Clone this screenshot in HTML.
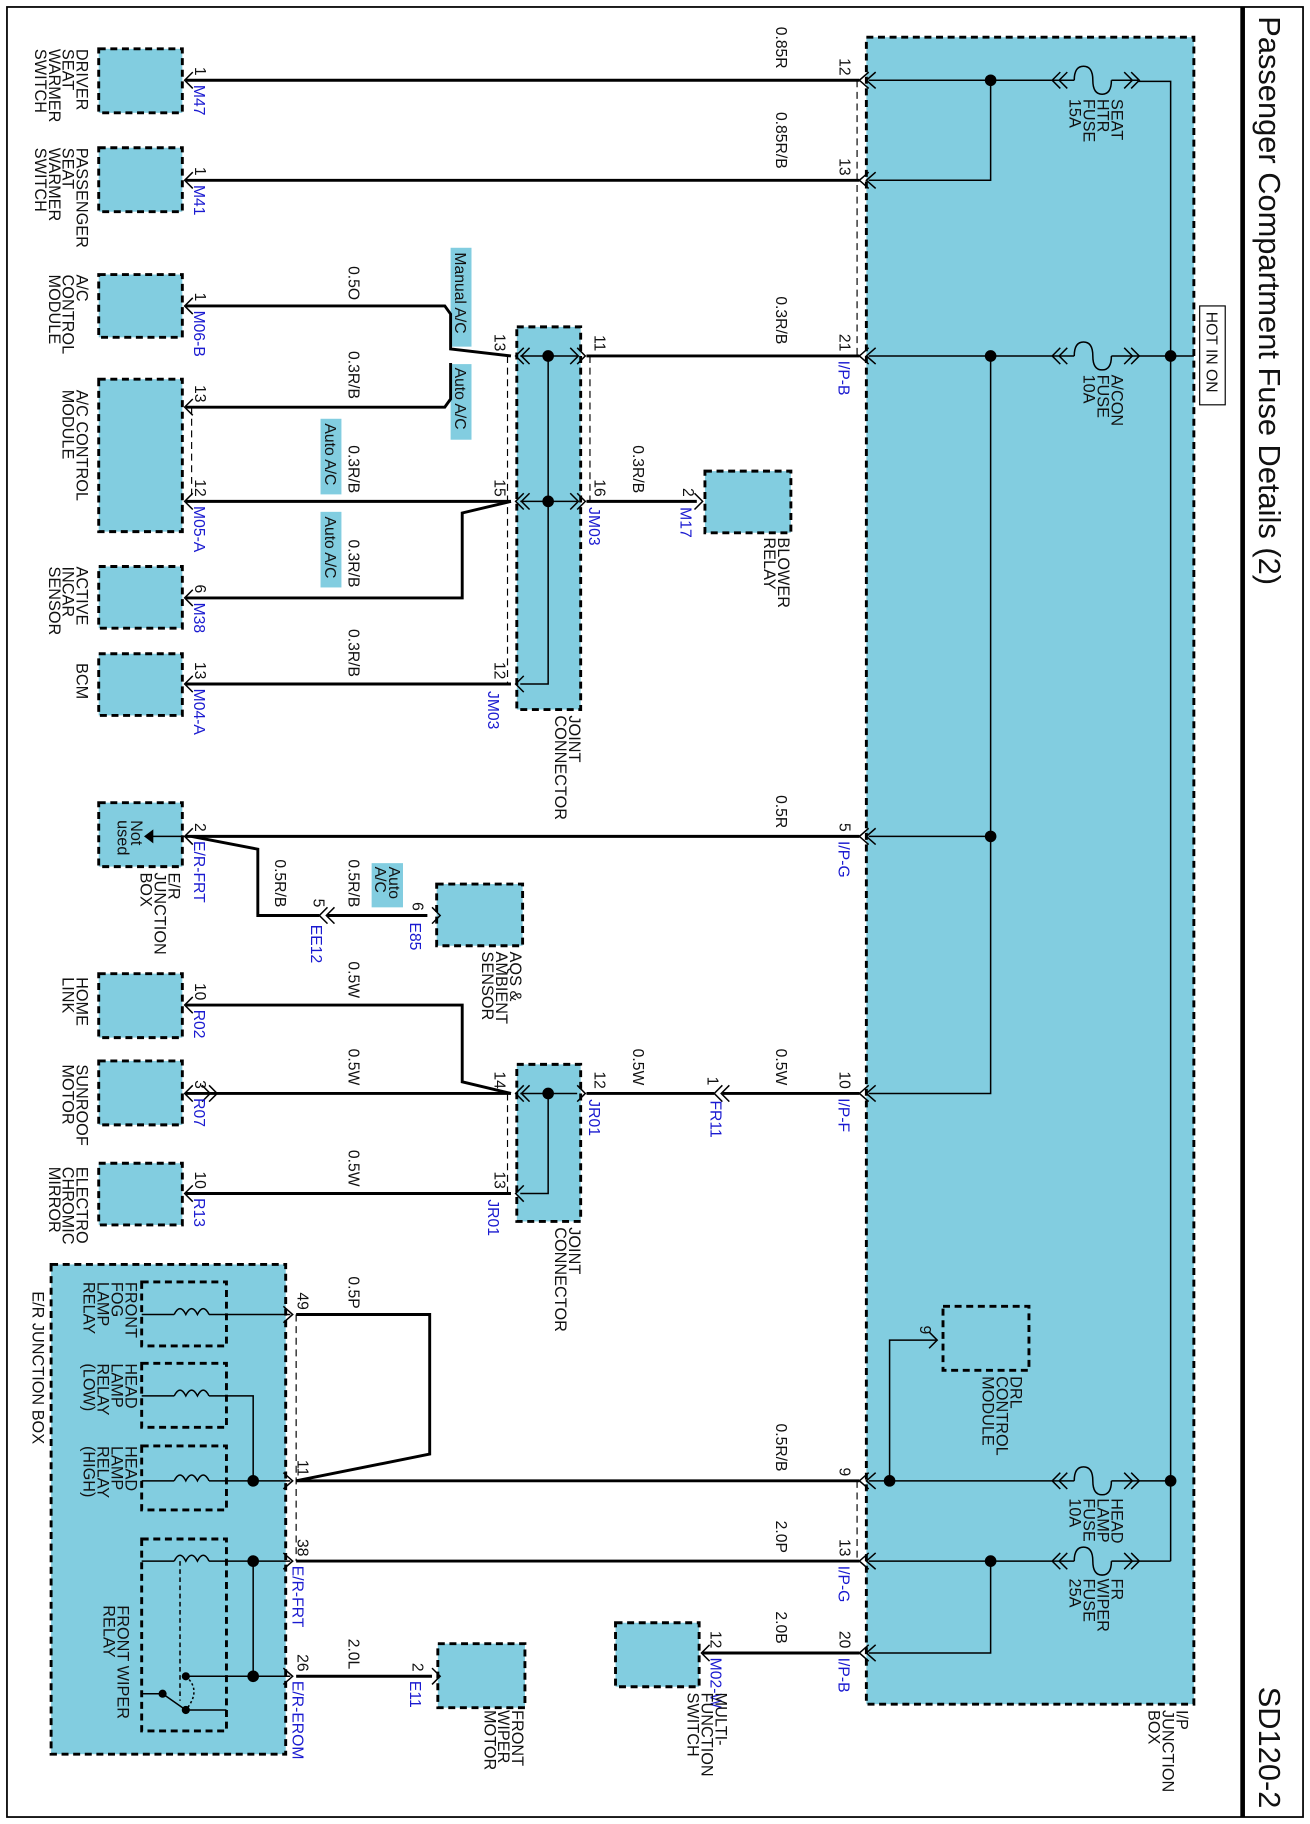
<!DOCTYPE html>
<html><head><meta charset="utf-8"><style>
html,body{margin:0;padding:0;background:#fff}
svg{display:block}
text{font-family:"Liberation Sans",sans-serif;font-size:13.5px;fill:#111}
.b{fill:#1a1ad0}
.t{font-size:26.5px}
.L text{font-size:14px}
</style></head><body>
<svg width="1310" height="1824" viewBox="0 0 1128 1568" preserveAspectRatio="none" xmlns="http://www.w3.org/2000/svg">
<rect x="6" y="6" width="1116" height="1556" fill="none" stroke="#000" stroke-width="1.5"/>
<line x1="1070" y1="6" x2="1070" y2="1562" stroke="#000" stroke-width="4"/>
<text class="t" transform="translate(1084,14) rotate(90)">Passenger Compartment Fuse Details (2)</text>
<text class="t" transform="translate(1084,1450) rotate(90)">SD120-2</text>

<g fill="#82cde0" stroke="#000" stroke-width="2.5" stroke-dasharray="6,4">
<rect x="746" y="32" width="282" height="1433"/>
<rect x="85" y="42" width="72" height="55"/>
<rect x="85" y="127" width="72" height="55"/>
<rect x="85" y="236" width="72" height="54"/>
<rect x="85" y="326" width="72" height="131"/>
<rect x="85" y="487" width="72" height="53"/>
<rect x="85" y="562" width="72" height="53"/>
<rect x="607" y="405" width="74" height="53"/>
<rect x="445" y="281" width="55" height="329"/>
<rect x="85" y="690" width="72" height="55"/>
<rect x="376" y="760" width="74" height="53"/>
<rect x="85" y="837" width="72" height="55"/>
<rect x="85" y="912" width="72" height="55"/>
<rect x="445" y="915" width="55" height="135"/>
<rect x="85" y="1000" width="72" height="53"/>
<rect x="44" y="1087" width="202" height="421"/>
<rect x="377" y="1413" width="75" height="55"/>
<rect x="530" y="1395" width="72" height="55"/>
</g>
<g fill="none" stroke="#000" stroke-width="2.5" stroke-dasharray="6,4">
<rect x="812" y="1123" width="74" height="55"/>
<rect x="122" y="1102" width="73" height="55"/>
<rect x="122" y="1172" width="73" height="55"/>
<rect x="122" y="1243" width="73" height="55"/>
<rect x="122" y="1323" width="73" height="165"/>
</g>
<rect x="1033" y="263" width="22" height="85" fill="#fff" stroke="#000" stroke-width="1"/>
<text transform="translate(1039,268) rotate(90)">HOT IN ON</text>
<rect x="388" y="213" width="18" height="85" fill="#82cde0"/>
<rect x="388" y="313" width="18" height="65" fill="#82cde0"/>
<rect x="276" y="360" width="18" height="65" fill="#82cde0"/>
<rect x="276" y="440" width="18" height="65" fill="#82cde0"/>
<rect x="320" y="742" width="27" height="38" fill="#82cde0"/>

<g stroke="#000" stroke-width="1" stroke-dasharray="6,4" fill="none">
<line x1="738" y1="69" x2="738" y2="306"/>
<line x1="738" y1="1273" x2="738" y2="1342"/>
<line x1="437" y1="306" x2="437" y2="588"/>
<line x1="508" y1="306" x2="508" y2="431"/>
<line x1="437" y1="940" x2="437" y2="1026"/>
<line x1="165" y1="350" x2="165" y2="431"/>
<line x1="255" y1="1130" x2="255" y2="1342"/>
</g>

<g stroke="#000" stroke-width="1.3" fill="none">
<polyline points="1008,1342 1008,70 980,70"/>
<line x1="1008" y1="306" x2="1028" y2="306"/>
<line x1="980" y1="306" x2="1008" y2="306"/>
<line x1="980" y1="1273" x2="1008" y2="1273"/>
<line x1="980" y1="1342" x2="1008" y2="1342"/>
<polyline points="905,69 748,69"/><polyline points="853,69 853,155 748,155"/>
<polyline points="905,306 748,306"/><polyline points="853,306 853,940 748,940"/>
<line x1="853" y1="719" x2="748" y2="719"/>
<line x1="905" y1="1273" x2="748" y2="1273"/>
<polyline points="766,1273 766,1152 806,1152"/>
<line x1="905" y1="1342" x2="748" y2="1342"/>
<polyline points="853,1342 853,1421 748,1421"/>
<polyline points="472,306 472,588 448,588"/>
<line x1="448" y1="306" x2="497" y2="306"/><line x1="448" y1="431" x2="497" y2="431"/>
<polyline points="448,940 497,940"/><polyline points="472,940 472,1026 448,1026"/>
<line x1="160" y1="719" x2="130" y2="719"/>
<line x1="122" y1="1130" x2="150" y2="1130"/><line x1="180" y1="1130" x2="250" y2="1130"/>
<polyline points="122,1200 150,1200"/><polyline points="180,1200 218,1200 218,1273"/>
<polyline points="122,1273 150,1273"/><polyline points="180,1273 250,1273"/>
<polyline points="122,1342 150,1342"/><polyline points="180,1342 250,1342"/>
<line x1="218" y1="1342" x2="218" y2="1441"/>
<line x1="160" y1="1441" x2="250" y2="1441"/>
<polyline points="122,1456 140,1456 160,1470 195,1470"/>
<path d="M150,1130 q5,-10 10,0 q5,-10 10,0 q5,-10 10,0 M150,1200 q5,-10 10,0 q5,-10 10,0 q5,-10 10,0 M150,1273 q5,-10 10,0 q5,-10 10,0 q5,-10 10,0 M150,1342 q5,-10 10,0 q5,-10 10,0 q5,-10 10,0"/>
<line x1="155" y1="1342" x2="155" y2="1462" stroke-dasharray="4,3"/>
<path d="M160,1441 q14,12 0,29" stroke-dasharray="2,2"/>
<path d="M925,69 q0,-12 8,-12 q8,0 8,12 q0,12 8,12 q8,0 8,-12 M925,306 q0,-12 8,-12 q8,0 8,12 q0,12 8,12 q8,0 8,-12 M925,1273 q0,-12 8,-12 q8,0 8,12 q0,12 8,12 q8,0 8,-12 M925,1342 q0,-12 8,-12 q8,0 8,12 q0,12 8,12 q8,0 8,-12"/>
<path d="M913,62 l-7,7 l7,7 M919,62 l-7,7 l7,7 M913,299 l-7,7 l7,7 M919,299 l-7,7 l7,7 M913,1266 l-7,7 l7,7 M919,1266 l-7,7 l7,7 M913,1335 l-7,7 l7,7 M919,1335 l-7,7 l7,7"/>
<path d="M968,62 l7,7 l-7,7 M974,62 l7,7 l-7,7 M968,299 l7,7 l-7,7 M974,299 l7,7 l-7,7 M968,1266 l7,7 l-7,7 M974,1266 l7,7 l-7,7 M968,1335 l7,7 l-7,7 M974,1335 l7,7 l-7,7"/>
<line x1="905" y1="69" x2="925" y2="69"/><line x1="957" y1="69" x2="980" y2="69"/>
<line x1="905" y1="306" x2="925" y2="306"/><line x1="957" y1="306" x2="980" y2="306"/>
<line x1="905" y1="1273" x2="925" y2="1273"/><line x1="957" y1="1273" x2="980" y2="1273"/>
<line x1="905" y1="1342" x2="925" y2="1342"/><line x1="957" y1="1342" x2="980" y2="1342"/>
</g>
<polygon points="132,713 132,725 124,719" fill="#000"/>

<g stroke="#000" stroke-width="2.5" fill="none">
<line x1="160" y1="69" x2="740" y2="69"/>
<line x1="160" y1="155" x2="740" y2="155"/>
<polyline points="160,263 383,263 388,270 388,300 440,306"/>
<polyline points="160,350 383,350 388,343 388,312"/>
<line x1="505" y1="306" x2="740" y2="306"/>
<line x1="160" y1="431" x2="440" y2="431"/>
<line x1="505" y1="431" x2="600" y2="431"/>
<polyline points="160,514 398,514 398,441 440,431"/>
<line x1="160" y1="588" x2="440" y2="588"/>
<line x1="160" y1="719" x2="740" y2="719"/>
<polyline points="165,719 222,730 222,787 275,787"/>
<line x1="282" y1="787" x2="368" y2="787"/>
<polyline points="160,864 398,864 398,930 440,940"/>
<line x1="160" y1="940" x2="440" y2="940"/>
<line x1="505" y1="940" x2="615" y2="940"/>
<line x1="622" y1="940" x2="740" y2="940"/>
<line x1="160" y1="1026" x2="440" y2="1026"/>
<polyline points="255,1130 370,1130 370,1250 255,1273"/>
<line x1="255" y1="1273" x2="740" y2="1273"/>
<line x1="255" y1="1342" x2="740" y2="1342"/>
<line x1="255" y1="1441" x2="372" y2="1441"/>
<line x1="605" y1="1421" x2="740" y2="1421"/>
</g>
<g stroke="#000" stroke-width="1.3" fill="none">
<path d="M748,62l-8,7l8,7M754,62l-8,7l8,7 M748,148l-8,7l8,7M754,148l-8,7l8,7 M748,299l-8,7l8,7M754,299l-8,7l8,7 M748,712l-8,7l8,7M754,712l-8,7l8,7 M748,933l-8,7l8,7M754,933l-8,7l8,7 M748,1266l-8,7l8,7M754,1266l-8,7l8,7 M748,1335l-8,7l8,7M754,1335l-8,7l8,7 M748,1414l-8,7l8,7M754,1414l-8,7l8,7"/>
<path d="M166,62l-7,7l7,7 M166,148l-7,7l7,7 M166,256l-7,7l7,7 M166,343l-7,7l7,7 M166,424l-7,7l7,7 M166,507l-7,7l7,7 M166,581l-7,7l7,7 M166,712l-7,7l7,7 M166,857l-7,7l7,7 M166,1019l-7,7l7,7 M166,933l-7,7l7,7 M174,933l7,7l-7,7 M180,933l7,7l-7,7"/>
<path d="M451,299l-7,7l7,7 M456,299l-7,7l7,7 M451,424l-7,7l7,7 M456,424l-7,7l7,7 M451,581l-7,7l7,7 M451,933l-7,7l7,7 M456,933l-7,7l7,7 M451,1019l-7,7l7,7"/>
<path d="M497,299l7,7l-7,7 M491,299l7,7l-7,7 M497,424l7,7l-7,7 M491,424l7,7l-7,7 M497,933l7,7l-7,7"/>
<path d="M598,424l7,7l-7,7 M372,780l7,7l-7,7 M372,1434l7,7l-7,7 M611,1414l-7,7l7,7 M800,1145l7,7l-7,7"/>
<path d="M282,780l-7,7l7,7 M288,780l-7,7l7,7 M622,933l-7,7l7,7 M628,933l-7,7l7,7"/>
<path d="M244,1123l8,7l-8,7 M244,1266l8,7l-8,7 M244,1335l8,7l-8,7 M244,1434l8,7l-8,7"/>
</g>
<g fill="#000">
<circle cx="853" cy="69" r="5"/><circle cx="853" cy="306" r="5"/><circle cx="853" cy="719" r="5"/>
<circle cx="1008" cy="306" r="5"/><circle cx="1008" cy="1273" r="5"/>
<circle cx="766" cy="1273" r="5"/><circle cx="853" cy="1342" r="5"/>
<circle cx="472" cy="306" r="5"/><circle cx="472" cy="431" r="5"/><circle cx="472" cy="940" r="5"/>
<circle cx="218" cy="1273" r="5"/><circle cx="218" cy="1342" r="5"/><circle cx="218" cy="1441" r="5"/>
<circle cx="160" cy="1441" r="3.5"/><circle cx="160" cy="1470" r="3.5"/><circle cx="140" cy="1456" r="3.5"/>
</g>

<g text-anchor="end">
<text transform="translate(668,59) rotate(90)">0.85R</text>
<text transform="translate(668,145) rotate(90)">0.85R/B</text>
<text transform="translate(300,258) rotate(90)">0.5O</text>
<text transform="translate(668,296) rotate(90)">0.3R/B</text>
<text transform="translate(300,343) rotate(90)">0.3R/B</text>
<text transform="translate(300,424) rotate(90)">0.3R/B</text>
<text transform="translate(545,424) rotate(90)">0.3R/B</text>
<text transform="translate(300,505) rotate(90)">0.3R/B</text>
<text transform="translate(300,582) rotate(90)">0.3R/B</text>
<text transform="translate(668,712) rotate(90)">0.5R</text>
<text transform="translate(237,780) rotate(90)">0.5R/B</text>
<text transform="translate(300,780) rotate(90)">0.5R/B</text>
<text transform="translate(300,858) rotate(90)">0.5W</text>
<text transform="translate(300,933) rotate(90)">0.5W</text>
<text transform="translate(545,933) rotate(90)">0.5W</text>
<text transform="translate(668,933) rotate(90)">0.5W</text>
<text transform="translate(300,1020) rotate(90)">0.5W</text>
<text transform="translate(300,1125) rotate(90)">0.5P</text>
<text transform="translate(668,1265) rotate(90)">0.5R/B</text>
<text transform="translate(668,1335) rotate(90)">2.0P</text>
<text transform="translate(300,1435) rotate(90)">2.0L</text>
<text transform="translate(668,1413) rotate(90)">2.0B</text>
<text transform="translate(723,65) rotate(90)">12</text>
<text transform="translate(723,151) rotate(90)">13</text>
<text transform="translate(723,302) rotate(90)">21</text>
<text transform="translate(723,715) rotate(90)">5</text>
<text transform="translate(723,936) rotate(90)">10</text>
<text transform="translate(723,1269) rotate(90)">9</text>
<text transform="translate(723,1338) rotate(90)">13</text>
<text transform="translate(723,1417) rotate(90)">20</text>
<text transform="translate(168,65) rotate(90)">1</text>
<text transform="translate(168,151) rotate(90)">1</text>
<text transform="translate(168,259) rotate(90)">1</text>
<text transform="translate(168,346) rotate(90)">13</text>
<text transform="translate(168,427) rotate(90)">12</text>
<text transform="translate(168,510) rotate(90)">6</text>
<text transform="translate(168,584) rotate(90)">13</text>
<text transform="translate(168,715) rotate(90)">2</text>
<text transform="translate(168,860) rotate(90)">10</text>
<text transform="translate(168,936) rotate(90)">3</text>
<text transform="translate(168,1022) rotate(90)">10</text>
<text transform="translate(426,302) rotate(90)">13</text>
<text transform="translate(426,427) rotate(90)">15</text>
<text transform="translate(426,584) rotate(90)">12</text>
<text transform="translate(426,936) rotate(90)">14</text>
<text transform="translate(426,1022) rotate(90)">13</text>
<text transform="translate(512,302) rotate(90)">11</text>
<text transform="translate(512,427) rotate(90)">16</text>
<text transform="translate(512,936) rotate(90)">12</text>
<text transform="translate(588,427) rotate(90)">2</text>
<text transform="translate(609,933) rotate(90)">1</text>
<text transform="translate(270,780) rotate(90)">5</text>
<text transform="translate(355,783) rotate(90)">6</text>
<text transform="translate(355,1437) rotate(90)">2</text>
<text transform="translate(612,1417) rotate(90)">12</text>
<text transform="translate(792,1147) rotate(90)">9</text>
<text transform="translate(256,1126) rotate(90)">49</text>
<text transform="translate(256,1269) rotate(90)">11</text>
<text transform="translate(256,1338) rotate(90)">38</text>
<text transform="translate(256,1437) rotate(90)">26</text>
</g>
<g>
<text class="b" transform="translate(167,73) rotate(90)">M47</text>
<text class="b" transform="translate(167,159) rotate(90)">M41</text>
<text class="b" transform="translate(167,267) rotate(90)">M06-B</text>
<text class="b" transform="translate(167,435) rotate(90)">M05-A</text>
<text class="b" transform="translate(167,518) rotate(90)">M38</text>
<text class="b" transform="translate(167,592) rotate(90)">M04-A</text>
<text class="b" transform="translate(167,723) rotate(90)">E/R-FRT</text>
<text class="b" transform="translate(167,868) rotate(90)">R02</text>
<text class="b" transform="translate(167,944) rotate(90)">R07</text>
<text class="b" transform="translate(167,1030) rotate(90)">R13</text>
<text class="b" transform="translate(722,310) rotate(90)">I/P-B</text>
<text class="b" transform="translate(722,723) rotate(90)">I/P-G</text>
<text class="b" transform="translate(722,944) rotate(90)">I/P-F</text>
<text class="b" transform="translate(722,1346) rotate(90)">I/P-G</text>
<text class="b" transform="translate(722,1425) rotate(90)">I/P-B</text>
<text class="b" transform="translate(420,594) rotate(90)">JM03</text>
<text class="b" transform="translate(507,436) rotate(90)">JM03</text>
<text class="b" transform="translate(507,945) rotate(90)">JR01</text>
<text class="b" transform="translate(420,1031) rotate(90)">JR01</text>
<text class="b" transform="translate(612,946) rotate(90)">FR11</text>
<text class="b" transform="translate(268,795) rotate(90)">EE12</text>
<text class="b" transform="translate(353,793) rotate(90)">E85</text>
<text class="b" transform="translate(586,436) rotate(90)">M17</text>
<text class="b" transform="translate(252,1346) rotate(90)">E/R-FRT</text>
<text class="b" transform="translate(252,1445) rotate(90)">E/R-EROM</text>
<text class="b" transform="translate(353,1445) rotate(90)">E11</text>
<text class="b" transform="translate(612,1425) rotate(90)">M02-W</text>
</g>
<text transform="translate(392,217) rotate(90)">Manual A/C</text>
<text transform="translate(392,316) rotate(90)">Auto A/C</text>
<text transform="translate(280,364) rotate(90)">Auto A/C</text>
<text transform="translate(280,444) rotate(90)">Auto A/C</text>
<text transform="translate(335,745) rotate(90)">Auto<tspan x="0" dy="12">A/C</tspan></text>

<g class="L">
<text transform="translate(66,42) rotate(90)">DRIVER<tspan x="0" dy="12">SEAT</tspan><tspan x="0" dy="12">WARMER</tspan><tspan x="0" dy="12">SWITCH</tspan></text>
<text transform="translate(66,127) rotate(90)">PASSENGER<tspan x="0" dy="12">SEAT</tspan><tspan x="0" dy="12">WARMER</tspan><tspan x="0" dy="12">SWITCH</tspan></text>
<text transform="translate(66,236) rotate(90)">A/C<tspan x="0" dy="12">CONTROL</tspan><tspan x="0" dy="12">MODULE</tspan></text>
<text transform="translate(66,335) rotate(90)">A/C CONTROL<tspan x="0" dy="12">MODULE</tspan></text>
<text transform="translate(66,487) rotate(90)">ACTIVE<tspan x="0" dy="12">INCAR</tspan><tspan x="0" dy="12">SENSOR</tspan></text>
<text transform="translate(66,570) rotate(90)">BCM</text>
<text transform="translate(670,462) rotate(90)">BLOWER<tspan x="0" dy="12">RELAY</tspan></text>
<text transform="translate(490,615) rotate(90)">JOINT<tspan x="0" dy="12">CONNECTOR</tspan></text>
<text transform="translate(490,1055) rotate(90)">JOINT<tspan x="0" dy="12">CONNECTOR</tspan></text>
<text transform="translate(113,705) rotate(90)">Not<tspan x="0" dy="12">used</tspan></text>
<text transform="translate(145,750) rotate(90)">E/R<tspan x="0" dy="12">JUNCTION</tspan><tspan x="0" dy="12">BOX</tspan></text>
<text transform="translate(439,818) rotate(90)">AQS &amp;<tspan x="0" dy="12">AMBIENT</tspan><tspan x="0" dy="12">SENSOR</tspan></text>
<text transform="translate(66,840) rotate(90)">HOME<tspan x="0" dy="12">LINK</tspan></text>
<text transform="translate(66,915) rotate(90)">SUNROOF<tspan x="0" dy="12">MOTOR</tspan></text>
<text transform="translate(66,1003) rotate(90)">ELECTRO<tspan x="0" dy="12">CHROMIC</tspan><tspan x="0" dy="12">MIRROR</tspan></text>
<text transform="translate(108,1102) rotate(90)">FRONT<tspan x="0" dy="12">FOG</tspan><tspan x="0" dy="12">LAMP</tspan><tspan x="0" dy="12">RELAY</tspan></text>
<text transform="translate(108,1172) rotate(90)">HEAD<tspan x="0" dy="12">LAMP</tspan><tspan x="0" dy="12">RELAY</tspan><tspan x="0" dy="12">(LOW)</tspan></text>
<text transform="translate(108,1243) rotate(90)">HEAD<tspan x="0" dy="12">LAMP</tspan><tspan x="0" dy="12">RELAY</tspan><tspan x="0" dy="12">(HIGH)</tspan></text>
<text transform="translate(101,1380) rotate(90)">FRONT WIPER<tspan x="0" dy="12">RELAY</tspan></text>
<text transform="translate(28,1110) rotate(90)">E/R JUNCTION BOX</text>
<text transform="translate(441,1470) rotate(90)">FRONT<tspan x="0" dy="12">WIPER</tspan><tspan x="0" dy="12">MOTOR</tspan></text>
<text transform="translate(616,1455) rotate(90)">MULTI-<tspan x="0" dy="12">FUNCTION</tspan><tspan x="0" dy="12">SWITCH</tspan></text>
<text transform="translate(870,1183) rotate(90)">DRL<tspan x="0" dy="12">CONTROL</tspan><tspan x="0" dy="12">MODULE</tspan></text>
<text transform="translate(1013,1470) rotate(90)">I/P<tspan x="0" dy="12">JUNCTION</tspan><tspan x="0" dy="12">BOX</tspan></text>
<text transform="translate(957,85) rotate(90)">SEAT<tspan x="0" dy="12">HTR</tspan><tspan x="0" dy="12">FUSE</tspan><tspan x="0" dy="12">15A</tspan></text>
<text transform="translate(957,322) rotate(90)">A/CON<tspan x="0" dy="12">FUSE</tspan><tspan x="0" dy="12">10A</tspan></text>
<text transform="translate(957,1288) rotate(90)">HEAD<tspan x="0" dy="12">LAMP</tspan><tspan x="0" dy="12">FUSE</tspan><tspan x="0" dy="12">10A</tspan></text>
<text transform="translate(957,1357) rotate(90)">FR<tspan x="0" dy="12">WIPER</tspan><tspan x="0" dy="12">FUSE</tspan><tspan x="0" dy="12">25A</tspan></text>
</g>
</svg>
</body></html>
